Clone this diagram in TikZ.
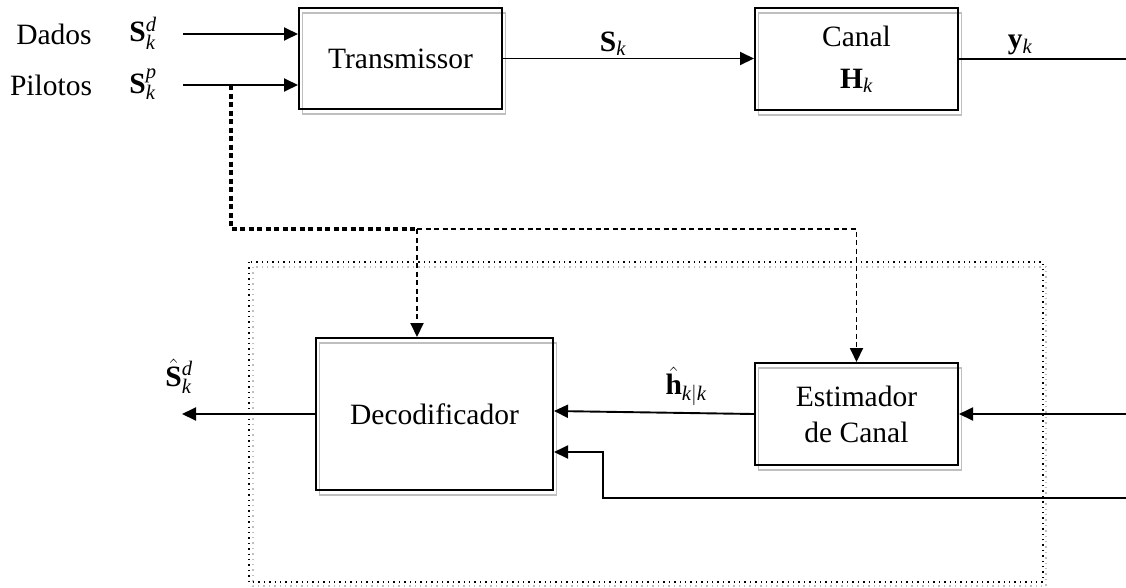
\documentclass[tikz,border=0pt]{standalone}
\usepackage{fix-cm}
\usepackage{fontspec}
\setmainfont{Liberation Serif}
\usetikzlibrary{arrows.meta,shadows,calc}

\begin{document}
\begin{tikzpicture}[x=1pt,y=-1pt,
  every node/.style={font=\fontsize{29.5}{36}\selectfont},
  wire/.style={line width=1.9pt},
  tip/.style={-{Triangle[length=14pt,width=13pt]}},
  arr/.style={wire,tip},
  pilotdash/.style={line width=1.9pt,dash pattern=on 5pt off 3.5pt},
  pilotthick/.style={line width=3.2pt,dash pattern=on 5pt off 3.5pt},
  block/.style={draw,line width=2pt,inner sep=0pt,align=center,
    copy shadow={shadow xshift=3.5pt,shadow yshift=-5pt,fill=none,draw=black!25,line width=1.8pt}},
  dotbox/.style={line width=1.4pt,dash pattern=on 1.4pt off 4pt},
  txt/.style={inner sep=0pt}
]
\useasboundingbox (0,0) rectangle (1126,587);

% receiver enclosure (dotted, with a grey copy)
\draw[dotbox,black!25] (253,267) rectangle (1046,586);
\draw[dotbox] (249,262) rectangle (1043,582);

% blocks
\node[block,minimum width=203pt,minimum height=101pt] (tx) at (400.5,58.5) {Transmissor};
\node[block,minimum width=203pt,minimum height=102pt] (ch) at (856.5,59) {Canal\\[6pt]$\mathbf{H}_{\mathit{k}}$};
\node[block,minimum width=237pt,minimum height=152pt] (dec) at (434.5,414) {Decodificador};
\node[block,minimum width=203pt,minimum height=102pt] (est) at (856.5,414) {Estimador\\de Canal};

% input labels
\node[txt] (dados) at (54,34) {Dados};
\node[txt] (sd) at (143,33) {$\mathbf{S}_{\mathit{k}}^{\mathit{d}}$};
\node[txt] (pilotos) at (51,85) {Pilotos};
\node[txt] (sp) at (143,84) {$\mathbf{S}_{\mathit{k}}^{\mathit{p}}$};

% signal labels
\node[txt] (sk) at (613,44) {$\mathbf{S}_{\mathit{k}}$};
\node[txt] (yk) at (1020,45) {$\mathbf{y}_{\mathit{k}}$};
\node[txt] (hk) at (686,386) {$\hat{\mathbf{h}}_{\mathit{k}|\mathit{k}}$};
\node[txt] (shat) at (179,376) {$\hat{\mathbf{S}}_{\mathit{k}}^{\mathit{d}}$};

% connection points (the return line runs along the right edge)
\coordinate (din) at (183,34);
\coordinate (pin) at (183,85);
\coordinate (ptap) at (231,85);
\coordinate (split) at (417,229);
\coordinate (rtop) at (1126.7,59);
\coordinate (rest) at (1126.7,414);
\coordinate (rbot) at (1126.7,498);
\coordinate (fbk) at (603,452);
\coordinate (sout) at (182,414);

% transmitter side
\draw[arr] (din) -- (tx.west |- din);
\draw[arr] (pin) -- (tx.west |- pin);
\draw[arr] (tx.east) -- (tx.east -| ch.west);
\draw[wire] (ch.east) -- (rtop) -- (rbot);

% pilot reference to the receiver
\draw[pilotthick] (ptap) |- (split);
\draw[pilotdash,tip] (split) -- (split |- dec.north);
\draw[pilotdash,tip] (split) -| (est.north);

% receiver side
\draw[arr] (rest) -- (est.east |- rest);
\draw[arr] (est.west) -- ($(dec.east)+(0,-3)$);
\draw[arr] (rbot) -| (fbk) -- (fbk -| dec.east);
\draw[arr] (dec.west) -- (sout);
\end{tikzpicture}
\end{document}
